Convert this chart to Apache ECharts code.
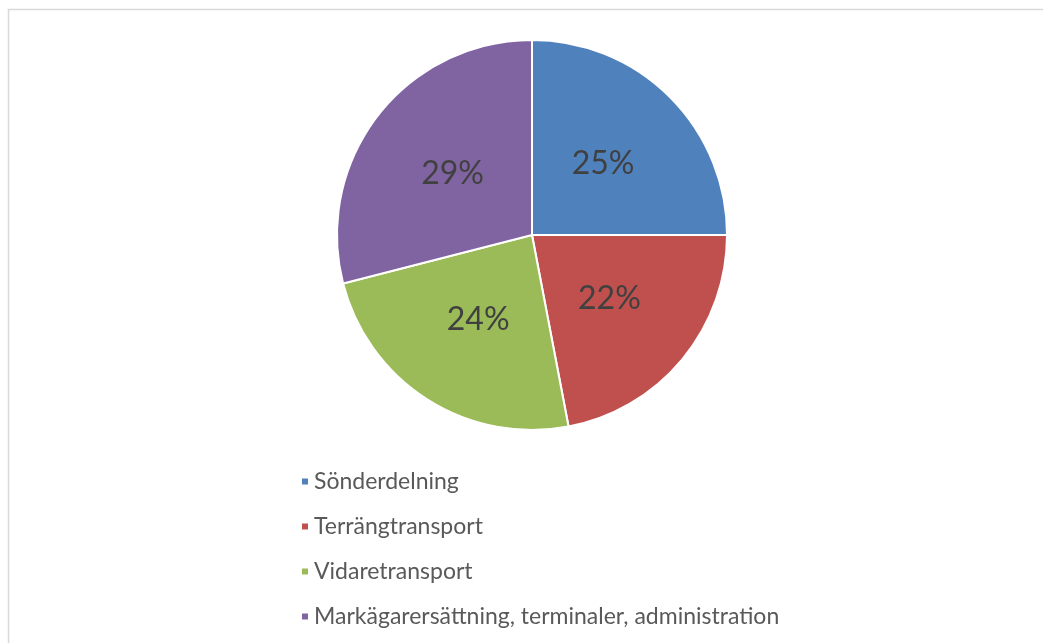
<!DOCTYPE html>
<html>
<head>
<meta charset="utf-8">
<script src="https://cdn.jsdelivr.net/npm/echarts@6/dist/echarts.min.js"></script>
<style>
  html, body { margin: 0; padding: 0; background: #fff; }
  #chart { width: 1043px; height: 643px; }
</style>
</head>
<body>
<div id="chart"></div>
<script>
// Kostnadsandelar per led i kedjan
const categories = ['Sönderdelning', 'Terrängtransport', 'Vidaretransport', 'Markägarersättning, terminaler, administration'];
const shares = [25, 22, 24, 29];
const colors = ['#4F81BD', '#C0504D', '#9BBB59', '#8064A2'];

const chart = echarts.init(document.getElementById('chart'), null, { renderer: 'canvas' });

chart.setOption({
  animation: false,
  backgroundColor: '#ffffff',
  color: colors,
  textStyle: { fontFamily: 'Lato' },
  graphic: [{
    type: 'rect',
    shape: { x: 8.5, y: 9.5, width: 1100, height: 700 },
    style: { fill: 'none', stroke: '#d9d9d9', lineWidth: 1.5 },
    silent: true
  }],
  legend: {
    orient: 'vertical',
    left: 300,
    top: 470,
    padding: 0,
    icon: 'rect',
    itemWidth: 8,
    itemHeight: 8,
    itemGap: 22,
    textStyle: { fontSize: 23, color: '#595959', fontFamily: 'Lato' },
    data: categories
  },
  series: [{
    type: 'pie',
    center: [532, 235],
    radius: 195,
    startAngle: 90,
    clockwise: true,
    label: {
      show: true,
      position: 'inside',
      formatter: p => p.value + '%',
      fontSize: 32,
      color: '#404040',
      fontFamily: 'Lato'
    },
    labelLine: { show: false },
    itemStyle: { borderColor: '#ffffff', borderWidth: 2 },
    data: categories.map((name, i) => ({ name, value: shares[i] }))
  }]
});
</script>
</body>
</html>
